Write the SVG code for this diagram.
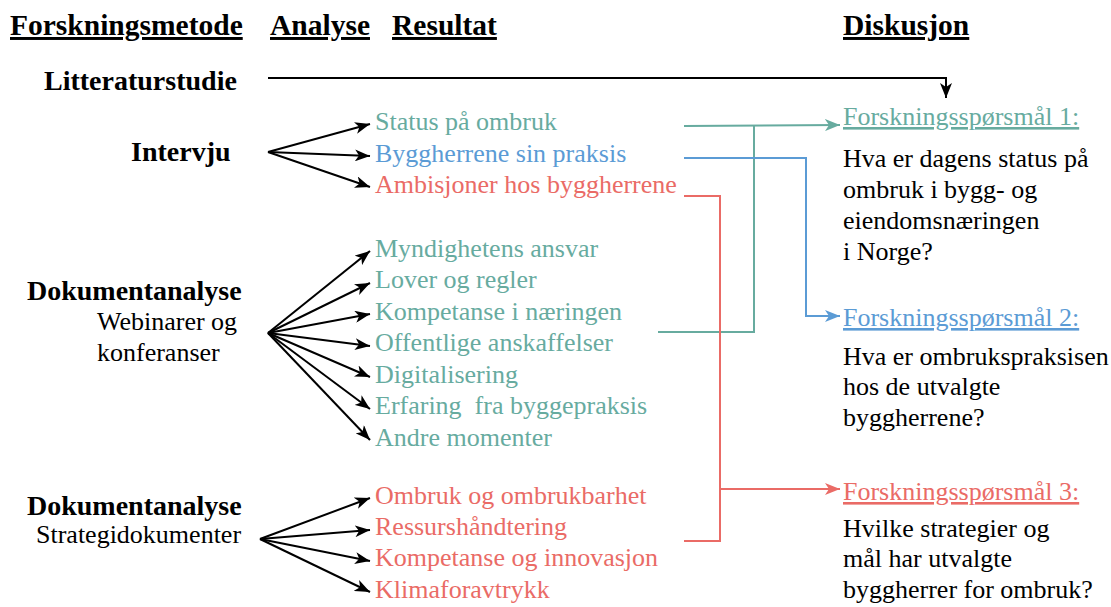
<svg xmlns="http://www.w3.org/2000/svg" width="1111" height="607" viewBox="0 0 1111 607">
  <style>
    text { font-family: "Liberation Serif", "Times New Roman", serif; }
    .head { font-size: 29.5px; font-weight: bold; text-decoration: underline; fill: #000; }
    .method { font-size: 28px; font-weight: bold; fill: #000; }
    .sub { font-size: 26px; fill: #000; }
    .res { font-size: 26px; }
    .q { font-size: 26px; fill: #000; }
    .qh { font-size: 26px; text-decoration: underline; }
    .teal { fill: #67AB9F; }
    .blue { fill: #5B9BD5; }
    .red { fill: #EA6B66; }
    .fan { stroke: #000; stroke-width: 2; fill: none; marker-end: url(#ah-black); }
    .lnk { stroke-width: 2; fill: none; }
  </style>
  <defs>
    <marker id="ah-black" markerUnits="userSpaceOnUse" markerWidth="16" markerHeight="12" refX="15" refY="6" orient="auto">
      <path d="M0,0 L15,6 L0,12 L4,6 z" fill="#000"/>
    </marker>
    <marker id="ah-teal" markerUnits="userSpaceOnUse" markerWidth="16" markerHeight="12" refX="15" refY="6" orient="auto">
      <path d="M0,0 L15,6 L0,12 L4,6 z" fill="#67AB9F"/>
    </marker>
    <marker id="ah-blue" markerUnits="userSpaceOnUse" markerWidth="16" markerHeight="12" refX="15" refY="6" orient="auto">
      <path d="M0,0 L15,6 L0,12 L4,6 z" fill="#5B9BD5"/>
    </marker>
    <marker id="ah-red" markerUnits="userSpaceOnUse" markerWidth="16" markerHeight="12" refX="15" refY="6" orient="auto">
      <path d="M0,0 L15,6 L0,12 L4,6 z" fill="#EA6B66"/>
    </marker>
  </defs>

  <rect width="1111" height="607" fill="#fff"/>

  <!-- column headings -->
  <g id="headings">
    <text class="head" x="10" y="35">Forskningsmetode</text>
    <text class="head" x="270" y="35">Analyse</text>
    <text class="head" x="392" y="35">Resultat</text>
    <text class="head" x="843" y="35">Diskusjon</text>
  </g>

  <!-- research methods -->
  <g id="litteraturstudie">
    <text class="method" x="44" y="90">Litteraturstudie</text>
  </g>
  <g id="intervju">
    <text class="method" x="131" y="161">Intervju</text>
  </g>
  <g id="dokumentanalyse-webinar">
    <text class="method" x="27" y="300">Dokumentanalyse</text>
    <text class="sub" x="97" y="330">Webinarer og</text>
    <text class="sub" x="97" y="361">konferanser</text>
  </g>
  <g id="dokumentanalyse-strategi">
    <text class="method" x="27" y="515">Dokumentanalyse</text>
    <text class="sub" x="36" y="543">Strategidokumenter</text>
  </g>

  <!-- results from interviews -->
  <g id="res-intervju">
    <text class="res teal" x="375" y="130">Status på ombruk</text>
    <text class="res blue" x="375" y="162">Byggherrene sin praksis</text>
    <text class="res red" x="375" y="193">Ambisjoner hos byggherrene</text>
  </g>

  <!-- results from webinars and conferences -->
  <g id="res-webinar">
    <text class="res teal" x="375" y="257">Myndighetens ansvar</text>
    <text class="res teal" x="375" y="288">Lover og regler</text>
    <text class="res teal" x="375" y="320">Kompetanse i næringen</text>
    <text class="res teal" x="375" y="351">Offentlige anskaffelser</text>
    <text class="res teal" x="375" y="383">Digitalisering</text>
    <text class="res teal" x="375" y="414" xml:space="preserve">Erfaring  fra byggepraksis</text>
    <text class="res teal" x="375" y="446">Andre momenter</text>
  </g>

  <!-- results from strategy documents -->
  <g id="res-strategi">
    <text class="res red" x="375" y="504">Ombruk og ombrukbarhet</text>
    <text class="res red" x="375" y="535">Ressurshåndtering</text>
    <text class="res red" x="375" y="566">Kompetanse og innovasjon</text>
    <text class="res red" x="375" y="598">Klimaforavtrykk</text>
  </g>

  <!-- research questions -->
  <g id="rq1">
    <text class="qh teal" x="843" y="125">Forskningsspørsmål 1:</text>
    <text class="q" x="843" y="167">Hva er dagens status på</text>
    <text class="q" x="843" y="198">ombruk i bygg- og</text>
    <text class="q" x="843" y="229">eiendomsnæringen</text>
    <text class="q" x="843" y="260">i Norge?</text>
  </g>
  <g id="rq2">
    <text class="qh blue" x="843" y="326">Forskningsspørsmål 2:</text>
    <text class="q" x="843" y="365">Hva er ombrukspraksisen</text>
    <text class="q" x="843" y="395">hos de utvalgte</text>
    <text class="q" x="843" y="426">byggherrene?</text>
  </g>
  <g id="rq3">
    <text class="qh red" x="843" y="500">Forskningsspørsmål 3:</text>
    <text class="q" x="843" y="537">Hvilke strategier og</text>
    <text class="q" x="843" y="567">mål har utvalgte</text>
    <text class="q" x="843" y="598">byggherrer for ombruk?</text>
  </g>

  <!-- connectors -->
  <g id="connectors">
    <!-- literature study straight to discussion -->
    <polyline class="fan" points="268,78 946,78 946,98"/>

    <!-- interview fan -->
    <line class="fan" x1="268" y1="152" x2="370" y2="124"/>
    <line class="fan" x1="268" y1="152" x2="370" y2="156"/>
    <line class="fan" x1="268" y1="152" x2="370" y2="187"/>

    <!-- webinar/conference fan -->
    <line class="fan" x1="268" y1="333" x2="370" y2="251"/>
    <line class="fan" x1="268" y1="333" x2="370" y2="283"/>
    <line class="fan" x1="268" y1="333" x2="370" y2="314"/>
    <line class="fan" x1="268" y1="333" x2="370" y2="346"/>
    <line class="fan" x1="268" y1="333" x2="370" y2="377"/>
    <line class="fan" x1="268" y1="333" x2="370" y2="409"/>
    <line class="fan" x1="268" y1="333" x2="370" y2="440"/>

    <!-- strategy document fan -->
    <line class="fan" x1="260" y1="539" x2="370" y2="498"/>
    <line class="fan" x1="260" y1="539" x2="370" y2="530"/>
    <line class="fan" x1="260" y1="539" x2="370" y2="561"/>
    <line class="fan" x1="260" y1="539" x2="370" y2="592"/>

    <!-- teal: status / public procurement to question 1 -->
    <line class="lnk" stroke="#67AB9F" x1="684" y1="126" x2="840" y2="125" marker-end="url(#ah-teal)"/>
    <polyline class="lnk" stroke="#67AB9F" points="754,126 754,332 658,332"/>

    <!-- blue: client practice to question 2 -->
    <polyline class="lnk" stroke="#5B9BD5" points="684,158 806,158 806,316 840,316" marker-end="url(#ah-blue)"/>

    <!-- red: ambitions and strategies to question 3 -->
    <polyline class="lnk" stroke="#EA6B66" points="684,196 720,196 720,541 684,541"/>
    <line class="lnk" stroke="#EA6B66" x1="720" y1="489" x2="840" y2="489" marker-end="url(#ah-red)"/>
  </g>
</svg>
